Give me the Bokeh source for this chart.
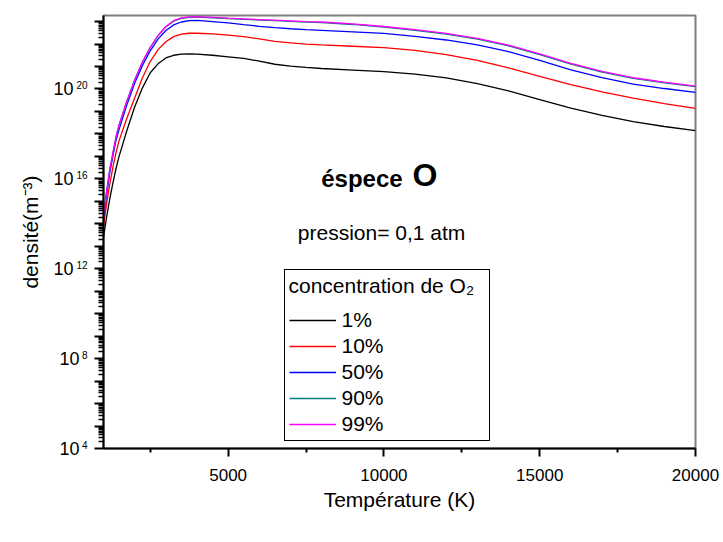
import math
from bokeh.plotting import figure
from bokeh.models import (Range1d, FixedTicker, CustomJSTickFormatter, Legend,
                          LegendItem, Label, LogAxis, Title)
from bokeh.embed import file_html
from bokeh.resources import INLINE

# ---- data (densities given as log10 exponents, m^-3) ----
temperature = [1000, 1100, 1200, 1300, 1400, 1500, 1750, 2000, 2250, 2500, 2750,
               3000, 3250, 3500, 3750, 4000, 4500, 5000, 5500, 6000, 6500, 7000,
               7500, 8000, 9000, 10000, 11000, 12000, 13000, 14000, 15000, 16000,
               17000, 18000, 19000, 20000]

log_n_1pct = [13.4, 14.3, 15.1, 15.8, 16.45, 17.0, 18.15, 19.2, 20.05, 20.72, 21.12,
              21.38, 21.5, 21.55, 21.56, 21.55, 21.5, 21.43, 21.36, 21.24, 21.1, 21.02,
              20.96, 20.91, 20.84, 20.77, 20.66, 20.49, 20.24, 19.91, 19.53, 19.15,
              18.82, 18.55, 18.33, 18.15]
log_n_10pct = [13.9, 14.9, 15.75, 16.5, 17.15, 17.7, 18.7, 19.6, 20.5, 21.22, 21.75,
               22.1, 22.33, 22.44, 22.48, 22.48, 22.45, 22.4, 22.33, 22.23, 22.12, 22.05,
               22.0, 21.96, 21.9, 21.84, 21.72, 21.53, 21.27, 20.94, 20.56, 20.19,
               19.87, 19.59, 19.35, 19.14]
log_n_50pct = [14.25, 15.3, 16.25, 17.0, 17.7, 18.2, 19.3, 20.25, 21.05, 21.7, 22.22,
               22.6, 22.85, 22.98, 23.04, 23.05, 23.0, 22.94, 22.86, 22.79, 22.73, 22.68,
               22.64, 22.61, 22.54, 22.47, 22.34, 22.18, 21.96, 21.66, 21.27, 20.85,
               20.5, 20.22, 20.02, 19.85]
log_n_90pct = [14.4, 15.45, 16.4, 17.15, 17.85, 18.4, 19.45, 20.4, 21.2, 21.84, 22.36,
               22.76, 23.02, 23.14, 23.19, 23.2, 23.17, 23.13, 23.1, 23.07, 23.04, 23.01,
               22.98, 22.95, 22.87, 22.75, 22.61, 22.44, 22.22, 21.92, 21.53, 21.11,
               20.75, 20.47, 20.27, 20.1]
log_n_99pct = [14.4, 15.45, 16.4, 17.15, 17.85, 18.4, 19.45, 20.4, 21.2, 21.85, 22.38,
               22.78, 23.04, 23.16, 23.21, 23.22, 23.19, 23.15, 23.12, 23.09, 23.06, 23.03,
               23.0, 22.98, 22.9, 22.78, 22.64, 22.47, 22.25, 21.95, 21.56, 21.14,
               20.78, 20.5, 20.3, 20.13]

series_labels = ["1%", "10%", "50%", "90%", "99%"]
series_colors = ["#000000", "#FF0000", "#0000FF", "#008080", "#FF00FF"]
series_values = [log_n_1pct, log_n_10pct, log_n_50pct, log_n_90pct, log_n_99pct]

x_ticks = [5000, 10000, 15000, 20000]
x_minor_ticks = [2500, 7500, 12500, 17500]
y_decades = list(range(4, 24))
y_labelled_exponents = [4, 8, 12, 16, 20]

X_MIN, X_MAX = 1000, 20000
Y_MIN, Y_MAX = 1e4, 1.86e23

FONT = "Liberation Sans"
INK = "#000000"

p = figure(width=720, height=535, output_backend="svg", toolbar_location=None,
           x_range=Range1d(X_MIN, X_MAX), y_range=Range1d(Y_MIN, Y_MAX),
           y_axis_type="log",
           min_border_left=103, min_border_right=25, min_border_top=15,
           min_border_bottom=87)

p.xgrid.visible = False
p.ygrid.visible = False
p.outline_line_color = "#7f7f7f"
p.outline_line_width = 2
p.background_fill_color = "white"
p.border_fill_color = "white"

renderers = []
for vals, col in zip(series_values, series_colors):
    r = p.line(temperature, [10.0 ** v for v in vals], line_color=col, line_width=1.3)
    renderers.append(r)

# x axis
xa = p.xaxis[0]
xa.ticker = FixedTicker(ticks=x_ticks, minor_ticks=x_minor_ticks)
xa.axis_label = "Température (K)"
xa.axis_label_text_font = FONT
xa.axis_label_text_font_size = "21px"
xa.axis_label_text_font_style = "normal"
xa.axis_label_text_color = INK
xa.axis_label_standoff = 4
xa.major_label_text_font = FONT
xa.major_label_text_font_size = "17px"
xa.major_label_text_color = INK
xa.major_label_standoff = 12
xa.axis_line_width = 2
xa.axis_line_color = INK
xa.major_tick_line_color = INK
xa.minor_tick_line_color = INK
xa.major_tick_in = 0
xa.major_tick_out = 8
xa.minor_tick_in = 0
xa.minor_tick_out = 4
xa.major_tick_line_width = 2
xa.minor_tick_line_width = 2

# y axis (inner): decade ticks + log minor ticks, no labels
ya = p.yaxis[0]
ya.ticker = FixedTicker(ticks=[10.0 ** k for k in y_decades],
                        minor_ticks=[m * 10.0 ** k for k in y_decades for m in range(2, 10)])
ya.formatter = CustomJSTickFormatter(code="return '';")
ya.major_label_standoff = 0
ya.axis_line_width = 2
ya.axis_line_color = INK
ya.major_tick_line_color = INK
ya.minor_tick_line_color = INK
ya.major_tick_in = 0
ya.major_tick_out = 9
ya.minor_tick_in = 0
ya.minor_tick_out = 5
ya.major_tick_line_width = 2
ya.minor_tick_line_width = 1.5

# exponent labels, raised a little above the decade
raise_dec = 0.156
exp_axis = LogAxis(
    ticker=FixedTicker(ticks=[10.0 ** (e + raise_dec) for e in y_labelled_exponents]),
    formatter=CustomJSTickFormatter(code="return String(Math.floor(Math.log10(tick)));"),
    major_tick_in=0, major_tick_out=0, minor_tick_in=0, minor_tick_out=0,
    axis_line_color=None, major_label_standoff=7,
    major_label_text_font=FONT, major_label_text_font_size="10px",
    major_label_text_color=INK)
p.add_layout(exp_axis, "left")

# mantissa "10" (a three-per-em space keeps it next to two-digit exponents)
base_axis = LogAxis(
    ticker=FixedTicker(ticks=[10.0 ** e for e in y_labelled_exponents]),
    formatter=CustomJSTickFormatter(
        code="return (Math.round(Math.log10(tick)) >= 10) ? '10\\u2004' : '10';"),
    major_tick_in=0, major_tick_out=0, minor_tick_in=0, minor_tick_out=0,
    axis_line_color=None, major_label_standoff=-6,
    major_label_text_font=FONT, major_label_text_font_size="18px",
    major_label_text_color=INK)
p.add_layout(base_axis, "left")

p.add_layout(Title(text="densité(m\u207b\u00b3)", align="center", offset=14,
                   standoff=17, text_font=FONT, text_font_size="21px",
                   text_font_style="normal", text_color=INK), "left")

# pixel helpers for placing annotation text (frame is 592 x 433 px)
FRAME_W, FRAME_H = 592, 433
def data_x(px_from_left):
    return X_MIN + px_from_left * (X_MAX - X_MIN) / FRAME_W
def data_y(px_from_top):
    lo, hi = math.log10(Y_MIN), math.log10(Y_MAX)
    return 10 ** (hi - px_from_top * (hi - lo) / FRAME_H)

p.add_layout(Label(x=data_x(217.7), y=data_y(162.7), text="éspece", text_font=FONT,
                   text_font_size="24px", text_font_style="bold", text_color=INK,
                   text_baseline="middle", text_align="left"))
p.add_layout(Label(x=data_x(309), y=data_y(159.5), text="O", text_font=FONT,
                   text_font_size="32px", text_font_style="bold", text_color=INK,
                   text_baseline="middle", text_align="left"))
p.add_layout(Label(x=data_x(194.3), y=data_y(216.5), text="pression= 0,1 atm",
                   text_font=FONT, text_font_size="21px", text_color=INK,
                   text_baseline="middle", text_align="left"))

legend = Legend(items=[LegendItem(label=l, renderers=[r])
                       for l, r in zip(series_labels, renderers)],
                location=(180.5, 7.5),
                title="concentration de O\u2082",
                title_text_font=FONT, title_text_font_size="21px",
                title_text_font_style="normal", title_text_color=INK, title_standoff=10,
                label_text_font=FONT, label_text_font_size="21px", label_text_color=INK,
                label_height=22, glyph_height=22, glyph_width=47, label_width=143,
                label_standoff=6, spacing=2, padding=4,
                border_line_color="black", border_line_width=1, border_line_alpha=1.0,
                background_fill_color="white", background_fill_alpha=1.0)
p.add_layout(legend)

open("out.html", "w").write(file_html(p, INLINE))
